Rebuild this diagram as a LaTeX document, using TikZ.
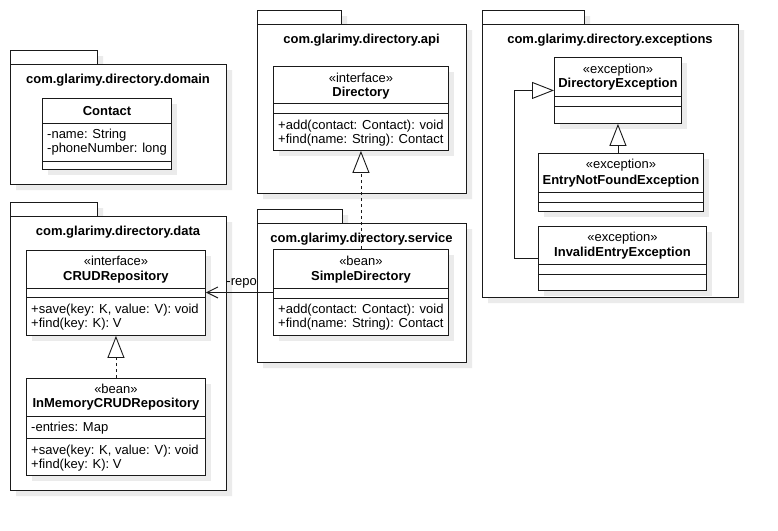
\documentclass[tikz,border=0pt]{standalone}
\usepackage{fontspec}
\setmainfont{Liberation Sans}
\usetikzlibrary{arrows.meta}
\definecolor{shd}{HTML}{EBEBEB}
\definecolor{ln}{HTML}{1A1A1A}
\newcommand{\fs}{\fontsize{13}{14}\selectfont}
% package: tab-left, tab-top, tab-right, body-right, body-bottom, name, title
\newcommand{\pk}[7]{\fill[shd] (#1+6,#2+6) rectangle (#3+6,#2+20) (#1+6,#2+20) rectangle (#4+6,#5+6);
  \draw[box] (#1,#2) rectangle (#3,#2+14); \draw[box] (#1,#2+14) rectangle (#4,#5);
  \node[nm] (#6) at ({(#1+#4)/2},#2+33) {#7};}
% class box: name, x1, y1, x2, y2
\newcommand{\cl}[5]{\fill[shd] (#2+6,#3+6) rectangle (#4+6,#5+6);
  \node[box, anchor=north west, minimum width={(#4-#2)*1pt}, minimum height={(#5-#3)*1pt}] (#1) at (#2,#3) {};}
\newcommand{\hl}[2]{\draw[box] (#1.west |- 0,#2) -- (#1.east |- 0,#2);}
\tikzset{
  box/.style={draw=ln, fill=white, line width=0.9pt, inner sep=0pt},
  st/.style={anchor=base, inner sep=0pt, font=\fs},
  nm/.style={anchor=base, inner sep=0pt, font=\fs\bfseries},
  mb/.style={anchor=base west, inner sep=0pt, xshift=5pt, font=\fs},
  real/.style={draw=ln, line width=0.9pt, dash pattern=on 3pt off 3pt, -{Triangle[length=22pt, width=17pt, fill=white]}},
  gen/.style={draw=ln, line width=0.9pt, -{Triangle[length=22pt, width=17pt, fill=white]}},
  asc/.style={draw=ln, line width=0.9pt, -{Straight Barb[length=11pt, width=11pt]}}
}

\begin{document}
\begin{tikzpicture}[x=1pt, y=-1pt]
  \useasboundingbox[fill=white] (0,0) rectangle (778,530);
  % packages
  \pk{10}{50}{97}{226}{184}{p-dom}{com.glarimy.directory.domain}
  \pk{257}{10}{341}{466}{193}{p-api}{com.glarimy.directory.api}
  \pk{10}{202}{97}{226}{490}{p-data}{com.glarimy.directory.data}
  \pk{257}{209}{342}{466}{362}{p-svc}{com.glarimy.directory.service}
  \pk{482}{10}{584}{738}{297}{p-exc}{com.glarimy.directory.exceptions}

  % domain
  \cl{con}{42}{98}{171}{169} \hl{con}{123} \hl{con}{161}
  \node[nm] (con-n) at (con.north |- 0,115.5) {Contact};
  \node[mb] (con-a1) at (con.west |- 0,138.5) {-name: String};
  \node[mb] (con-a2) at (con.west |- 0,152.5) {-phoneNumber: long};

  % api
  \cl{dir}{273}{66}{448}{150} \hl{dir}{103} \hl{dir}{113}
  \node[st] (dir-s) at (dir.north |- 0,82.5) {«interface»};
  \node[nm] (dir-n) at (dir.north |- 0,96.5) {Directory};
  \node[mb] (dir-m1) at (dir.west |- 0,129.5) {+add(contact: Contact): void};
  \node[mb] (dir-m2) at (dir.west |- 0,143.5) {+find(name: String): Contact};

  % service
  \cl{sd}{273}{249}{448}{335} \hl{sd}{288} \hl{sd}{298}
  \node[st] (sd-s) at (sd.north |- 0,265.5) {«bean»};
  \node[nm] (sd-n) at (sd.north |- 0,280.5) {SimpleDirectory};
  \node[mb] (sd-m1) at (sd.west |- 0,313.5) {+add(contact: Contact): void};
  \node[mb] (sd-m2) at (sd.west |- 0,327.5) {+find(name: String): Contact};

  % data
  \cl{crud}{26}{250}{205}{335} \hl{crud}{288} \hl{crud}{297}
  \node[st] (crud-s) at (crud.north |- 0,265.5) {«interface»};
  \node[nm] (crud-n) at (crud.north |- 0,280.5) {CRUDRepository};
  \node[mb] (crud-m1) at (crud.west |- 0,313.5) {+save(key: K, value: V): void};
  \node[mb] (crud-m2) at (crud.west |- 0,327.5) {+find(key: K): V};
  \cl{mem}{26}{378}{205}{475} \hl{mem}{416} \hl{mem}{438}
  \node[st] (mem-s) at (mem.north |- 0,393.5) {«bean»};
  \node[nm] (mem-n) at (mem.north |- 0,407.5) {InMemoryCRUDRepository};
  \node[mb] (mem-a1) at (mem.west |- 0,431.5) {-entries: Map};
  \node[mb] (mem-m1) at (mem.west |- 0,454.5) {+save(key: K, value: V): void};
  \node[mb] (mem-m2) at (mem.west |- 0,468.5) {+find(key: K): V};

  % exceptions
  \cl{dex}{554}{57}{681}{123} \hl{dex}{96} \hl{dex}{106}
  \node[st] (dex-s) at (dex.north |- 0,73.5) {«exception»};
  \node[nm] (dex-n) at (dex.north |- 0,87.5) {DirectoryException};
  \cl{enf}{538}{153}{703}{211} \hl{enf}{192} \hl{enf}{202}
  \node[st] (enf-s) at (enf.north |- 0,168.5) {«exception»};
  \node[nm] (enf-n) at (enf.north |- 0,184.5) {EntryNotFoundException};
  \cl{iee}{538}{226}{706}{290} \hl{iee}{264} \hl{iee}{274}
  \node[st] (iee-s) at (iee.north |- 0,241.5) {«exception»};
  \node[nm] (iee-n) at (iee.north |- 0,256.5) {InvalidEntryException};

  % relations
  \draw[real] (sd.north) -- (dir.south);
  \draw[real] (mem.north) -- (crud.south);
  \draw[gen] (enf.north -| dex.south) -- (dex.south);
  \draw[gen] (iee.west) -- ++(-24,0) |- (dex.west);
  \draw[asc] (sd.west) -- node[st, anchor=base east, pos=0.235, yshift=6.5pt] (repo) {-repo} (sd.west -| crud.east);
\end{tikzpicture}
\end{document}
